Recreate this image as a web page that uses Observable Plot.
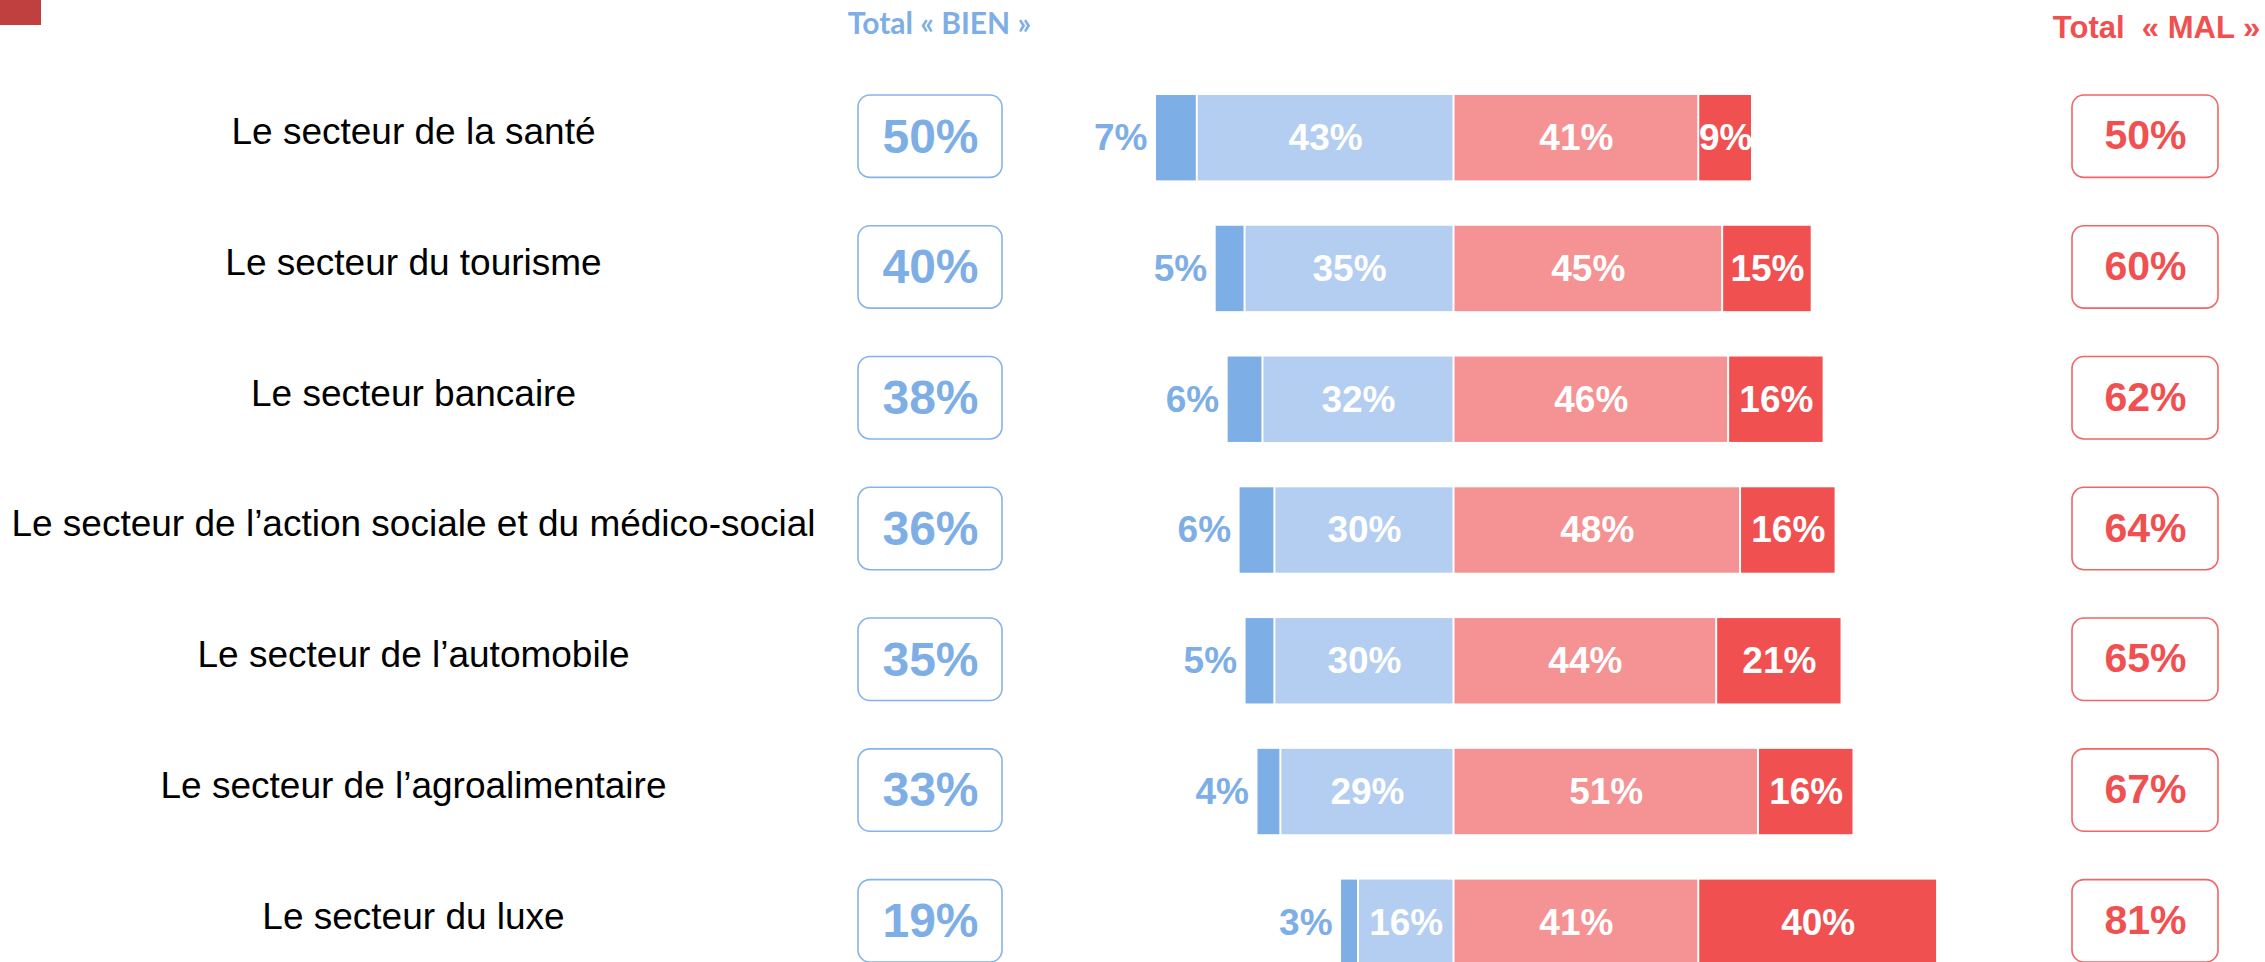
<!DOCTYPE html>
<html>
<head>
<meta charset="utf-8">
<script src="https://cdn.jsdelivr.net/npm/d3@7"></script>
<script src="https://cdn.jsdelivr.net/npm/@observablehq/plot@0.6"></script>
<style>
  html, body { margin: 0; padding: 0; background: #fff; }
  #wrap { position: relative; width: 2265px; height: 962px; overflow: hidden; }
  #corner { position: absolute; left: 0; top: 0; width: 41px; height: 25px; background: #C0403F; }
  svg { display: block; }
</style>
</head>
<body>
<div id="wrap"><div id="chart"></div><div id="corner"></div></div>
<script>
// ---- data ----
const sectors = [
  "Le secteur de la santé",
  "Le secteur du tourisme",
  "Le secteur bancaire",
  "Le secteur de l’action sociale et du médico-social",
  "Le secteur de l’automobile",
  "Le secteur de l’agroalimentaire",
  "Le secteur du luxe"
];
const tresBien  = [7, 5, 6, 6, 5, 4, 3];
const assezBien = [43, 35, 32, 30, 30, 29, 16];
const assezMal  = [41, 45, 46, 48, 44, 51, 41];
const tresMal   = [9, 15, 16, 16, 21, 16, 40];
const headerBien = "Total « BIEN »";
const headerMal = "Total\u00A0\u00A0« MAL »";

// ---- derived tables ----
const segments = [];
sectors.forEach((s, i) => {
  const tb = tresBien[i], ab = assezBien[i], am = assezMal[i], tm = tresMal[i];
  segments.push({sector: s, key: "tb", value: tb, x1: -(ab + tb), x2: -ab});
  segments.push({sector: s, key: "ab", value: ab, x1: -ab, x2: 0});
  segments.push({sector: s, key: "am", value: am, x1: 0, x2: am});
  segments.push({sector: s, key: "tm", value: tm, x1: am, x2: am + tm});
});
const totals = sectors.map((s, i) => ({
  sector: s,
  bien: tresBien[i] + assezBien[i],
  mal: assezMal[i] + tresMal[i]
}));

const colors = {tb: "#7EAEE6", ab: "#B3CEF0", am: "#F59293", tm: "#F05050"};
const blue = "#7EAEE6", red = "#F05050";
const W = 2265, H = 962;
const arial = "Liberation Sans, Arial, sans-serif";

const chart = Plot.plot({
  width: W,
  height: H,
  marginTop: 0, marginBottom: 0, marginLeft: 0, marginRight: 0,
  style: {fontFamily: arial, background: "white", overflow: "hidden"},
  x: {domain: [-100, 100], range: [1453.5 - 597, 1453.5 + 597], axis: null},
  y: {domain: sectors, range: [95, 965], paddingInner: 0.347, paddingOuter: 0, round: false, axis: null},
  color: {domain: Object.keys(colors), range: Object.values(colors)},
  marks: [
    // stacked bars
    Plot.barX(segments, {x1: "x1", x2: "x2", y: "sector", fill: d => colors[d.key], insetLeft: 1, insetRight: 1}),
    // inner labels (white)
    Plot.text(segments.filter(d => d.key !== "tb"), {
      x: d => (d.x1 + d.x2) / 2, y: "sector", text: d => d.value + "%",
      fill: "white", fontWeight: "bold", fontSize: 37
    }),
    // outer labels for "très bien"
    Plot.text(segments.filter(d => d.key === "tb"), {
      x: "x1", y: "sector", text: d => d.value + "%",
      fill: blue, fontWeight: "bold", fontSize: 37, textAnchor: "end", dx: -8
    }),
    // category labels
    Plot.text(sectors, {
      y: d => d, text: d => d, frameAnchor: "left", dx: 413, dy: -6,
      textAnchor: "middle", fill: "black", fontSize: 37
    }),
    // total BIEN boxes
    Plot.cell(totals, {
      y: "sector", fill: "white", stroke: "#85B3EA", strokeWidth: 1.6, rx: 12,
      insetLeft: 858, insetRight: W - 1002, insetTop: 0, insetBottom: 3
    }),
    Plot.text(totals, {
      y: "sector", text: d => d.bien + "%", frameAnchor: "left", dx: 930, dy: -1,
      textAnchor: "middle", fill: blue, fontWeight: "bold", fontSize: 48
    }),
    // total MAL boxes
    Plot.cell(totals, {
      y: "sector", fill: "white", stroke: "#F26466", strokeWidth: 1.6, rx: 12,
      insetLeft: 2072, insetRight: W - 2218, insetTop: 0, insetBottom: 3
    }),
    Plot.text(totals, {
      y: "sector", text: d => d.mal + "%", frameAnchor: "left", dx: 2145, dy: -2,
      textAnchor: "middle", fill: red, fontWeight: "bold", fontSize: 41
    }),
    // headers
    Plot.text([headerBien], {
      text: d => d, frameAnchor: "top-left", dx: 939, dy: 12,
      textAnchor: "middle", lineAnchor: "top", fill: blue, fontWeight: "bold",
      fontSize: 30, fontFamily: "Lato, sans-serif"
    }),
    Plot.text([headerMal], {
      text: d => d, frameAnchor: "top-left", dx: 2156, dy: 15,
      textAnchor: "middle", lineAnchor: "top", fill: red, fontWeight: "bold",
      fontSize: 31
    })
  ]
});
document.getElementById("chart").appendChild(chart);
</script>
</body>
</html>
